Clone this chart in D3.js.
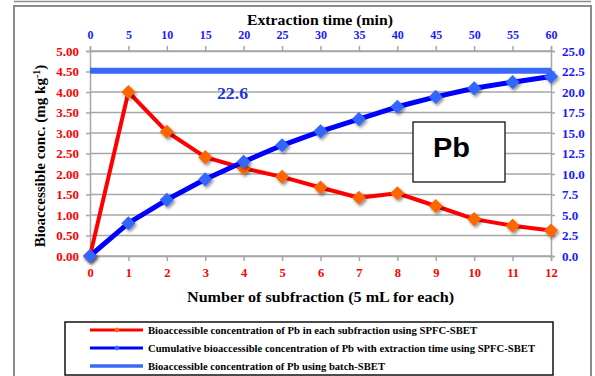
<!DOCTYPE html>
<html>
<head>
<meta charset="utf-8">
<script src="https://cdn.jsdelivr.net/npm/d3@7"></script>
<style>
  html, body { margin: 0; padding: 0; background: #fff; }
  svg { display: block; }
</style>
</head>
<body>
<div id="chart"></div>
<script>
// Subfraction index (5 mL each) and matching extraction time (min)
const subfractions = [0, 1, 2, 3, 4, 5, 6, 7, 8, 9, 10, 11, 12];
const timeTicks = [0, 5, 10, 15, 20, 25, 30, 35, 40, 45, 50, 55, 60];
// Pb bioaccessible concentration in each subfraction (mg kg-1), left axis
const perSubfraction = [0, 4.00, 3.03, 2.41, 2.14, 1.93, 1.67, 1.42, 1.53, 1.22, 0.90, 0.74, 0.62];
// Cumulative bioaccessible concentration (mg kg-1), right axis
const cumulative = [0, 4.0, 6.85, 9.35, 11.5, 13.5, 15.2, 16.7, 18.2, 19.4, 20.45, 21.2, 21.9];
// Batch-SBET result (mg kg-1), right axis
const batchValue = 22.6;
const leftTicks = [0, 0.5, 1, 1.5, 2, 2.5, 3, 3.5, 4, 4.5, 5];
const rightTicks = [0, 2.5, 5, 7.5, 10, 12.5, 15, 17.5, 20, 22.5, 25];
const legendLabels = [
  "Bioaccessible concentration of Pb in each subfraction using SPFC-SBET",
  "Cumulative bioaccessible concentration of Pb with extraction time using SPFC-SBET",
  "Bioaccessible concentration of Pb using batch-SBET"
];

const W = 595, H = 376;
const serif = "'Liberation Serif', 'Times New Roman', 'DejaVu Serif', serif";
const RED = "#ff0000", ORANGE = "#ff6600", BLUE = "#0000ff", MBLUE = "#3366ff",
      BATCH = "#3a6af5", TICKBLUE = "#1a1aff", GRID = "#a6a6a6";

const svg = d3.select("#chart").append("svg").attr("width", W).attr("height", H);

const defs = svg.append("defs");
const f = defs.append("filter").attr("id", "shadow")
  .attr("x", "-50%").attr("y", "-50%").attr("width", "200%").attr("height", "200%");
f.append("feDropShadow").attr("dx", 1.5).attr("dy", 2).attr("stdDeviation", 1.4)
  .attr("flood-color", "#000").attr("flood-opacity", 0.45);

// outer frame
svg.append("line").attr("x1", 14).attr("x2", 591).attr("y1", 1.5).attr("y2", 1.5)
  .attr("stroke", "#8c8c8c").attr("stroke-width", 1.5);
svg.append("rect").attr("x", 14).attr("y", 6).attr("width", 577).attr("height", 400)
  .attr("fill", "none").attr("stroke", "#8c8c8c").attr("stroke-width", 2);

const x = d3.scaleLinear().domain([0, 12]).range([90, 551]);
const xTop = d3.scaleLinear().domain([0, 60]).range([90, 551]);
const yL = d3.scaleLinear().domain([0, 5]).range([256, 51]);
const yR = d3.scaleLinear().domain([0, 25]).range([256, 51]);

// gridlines
svg.append("g").selectAll("line").data(leftTicks).join("line")
  .attr("x1", 90).attr("x2", 551)
  .attr("y1", d => yL(d)).attr("y2", d => yL(d))
  .attr("stroke", GRID).attr("stroke-width", 1.5);

function styleAxis(g, color, size) {
  g.select(".domain").attr("stroke", GRID).attr("stroke-width", 1.5);
  g.selectAll(".tick line").attr("stroke", GRID).attr("stroke-width", 1.5);
  g.selectAll(".tick text").attr("fill", color)
    .style("font-family", serif).attr("font-weight", "bold").attr("font-size", size);
}

// left axis
svg.append("g").attr("transform", "translate(90,0)")
  .call(d3.axisLeft(yL).tickValues(leftTicks).tickFormat(d3.format(".2f")).tickSize(4).tickPadding(7))
  .call(g => styleAxis(g, RED, 13));
// right axis
svg.append("g").attr("transform", "translate(551,0)")
  .call(d3.axisRight(yR).tickValues(rightTicks).tickFormat(d3.format(".1f")).tickSize(4).tickPadding(7))
  .call(g => styleAxis(g, TICKBLUE, 13));
// bottom axis
svg.append("g").attr("transform", "translate(0,256)")
  .call(d3.axisBottom(x).tickValues(subfractions).tickFormat(d3.format("d")).tickSize(5).tickPadding(7))
  .call(g => styleAxis(g, RED, 12.5));
// top axis
svg.append("g").attr("transform", "translate(0,51)")
  .call(d3.axisTop(xTop).tickValues(timeTicks).tickFormat(d3.format("d")).tickSize(5).tickPadding(7))
  .call(g => styleAxis(g, TICKBLUE, 12));

// batch-SBET level
svg.append("line")
  .attr("x1", x(0)).attr("x2", x(12))
  .attr("y1", yR(batchValue)).attr("y2", yR(batchValue))
  .attr("stroke", BATCH).attr("stroke-width", 6);
svg.append("text").attr("x", 217).attr("y", 99)
  .attr("textLength", 31).attr("lengthAdjust", "spacingAndGlyphs")
  .style("font-family", serif).attr("font-weight", "bold").attr("font-size", 17)
  .attr("fill", "#1f35d6").text(d3.format(".1f")(batchValue));

const diamond = d3.symbol(d3.symbolSquare, 100)();

// per-subfraction series
svg.append("path").datum(perSubfraction)
  .attr("d", d3.line().x((d, i) => x(subfractions[i])).y(d => yL(d)))
  .attr("fill", "none").attr("stroke", RED).attr("stroke-width", 4).attr("stroke-linejoin", "round");
svg.append("g").attr("filter", "url(#shadow)").selectAll("path").data(perSubfraction).join("path")
  .attr("d", diamond)
  .attr("transform", (d, i) => `translate(${x(subfractions[i])},${yL(d)}) rotate(45)`)
  .attr("fill", ORANGE);

// cumulative series
svg.append("path").datum(cumulative)
  .attr("d", d3.line().x((d, i) => x(subfractions[i])).y(d => yR(d)))
  .attr("fill", "none").attr("stroke", BLUE).attr("stroke-width", 5).attr("stroke-linejoin", "round");
svg.append("g").attr("filter", "url(#shadow)").selectAll("path").data(cumulative).join("path")
  .attr("d", diamond)
  .attr("transform", (d, i) => `translate(${x(subfractions[i])},${yR(d)}) rotate(45)`)
  .attr("fill", MBLUE);

// element label box
svg.append("rect").attr("x", 413).attr("y", 122).attr("width", 92).attr("height", 60)
  .attr("fill", "#fff").attr("stroke", "#111").attr("stroke-width", 1.3);
svg.append("text").attr("x", 433).attr("y", 157)
  .attr("textLength", 37).attr("lengthAdjust", "spacingAndGlyphs")
  .style("font-family", "'Liberation Sans', Arial, sans-serif").attr("font-weight", "bold")
  .attr("font-size", 27).attr("fill", "#000").text("Pb");

// axis titles
svg.append("text").attr("x", 247).attr("y", 25)
  .attr("textLength", 146).attr("lengthAdjust", "spacingAndGlyphs")
  .style("font-family", serif).attr("font-weight", "bold").attr("font-size", 15)
  .text("Extraction time (min)");
svg.append("text").attr("x", 187).attr("y", 302)
  .attr("textLength", 267).attr("lengthAdjust", "spacingAndGlyphs")
  .style("font-family", serif).attr("font-weight", "bold").attr("font-size", 15)
  .text("Number of subfraction (5 mL for each)");
const yt = svg.append("text").attr("transform", "translate(45,156) rotate(-90)")
  .attr("text-anchor", "middle")
  .style("font-family", serif).attr("font-weight", "bold").attr("font-size", 15);
yt.append("tspan").text("Bioaccessible conc. (mg kg");
yt.append("tspan").attr("dy", -5).attr("font-size", 10).text("-1");
yt.append("tspan").attr("dy", 5).text(")");

// legend
svg.append("rect").attr("x", 65).attr("y", 322).attr("width", 488).attr("height", 53)
  .attr("fill", "#fff").attr("stroke", "#111").attr("stroke-width", 1.5);
const legendStyles = [
  { stroke: RED, marker: ORANGE, width: 3, len: 329 },
  { stroke: BLUE, marker: MBLUE, width: 3, len: 387 },
  { stroke: BATCH, marker: null, width: 3.5, len: 237 }
];
const rowY = [330, 348, 366];
const lg = svg.append("g").selectAll("g").data(legendLabels).join("g")
  .attr("transform", (d, i) => `translate(0,${rowY[i]})`);
lg.append("line").attr("x1", 90).attr("x2", 143)
  .attr("stroke", (d, i) => legendStyles[i].stroke)
  .attr("stroke-width", (d, i) => legendStyles[i].width);
lg.filter((d, i) => legendStyles[i].marker)
  .append("path").attr("d", d3.symbol(d3.symbolSquare, 14)())
  .attr("transform", "translate(117,0) rotate(45)")
  .attr("fill", d => legendStyles[legendLabels.indexOf(d)].marker);
lg.append("text").attr("x", 148).attr("y", 3.5)
  .attr("textLength", (d, i) => legendStyles[i].len).attr("lengthAdjust", "spacingAndGlyphs")
  .style("font-family", serif).attr("font-weight", "bold").attr("font-size", 10.3)
  .text(d => d);
</script>
</body>
</html>
